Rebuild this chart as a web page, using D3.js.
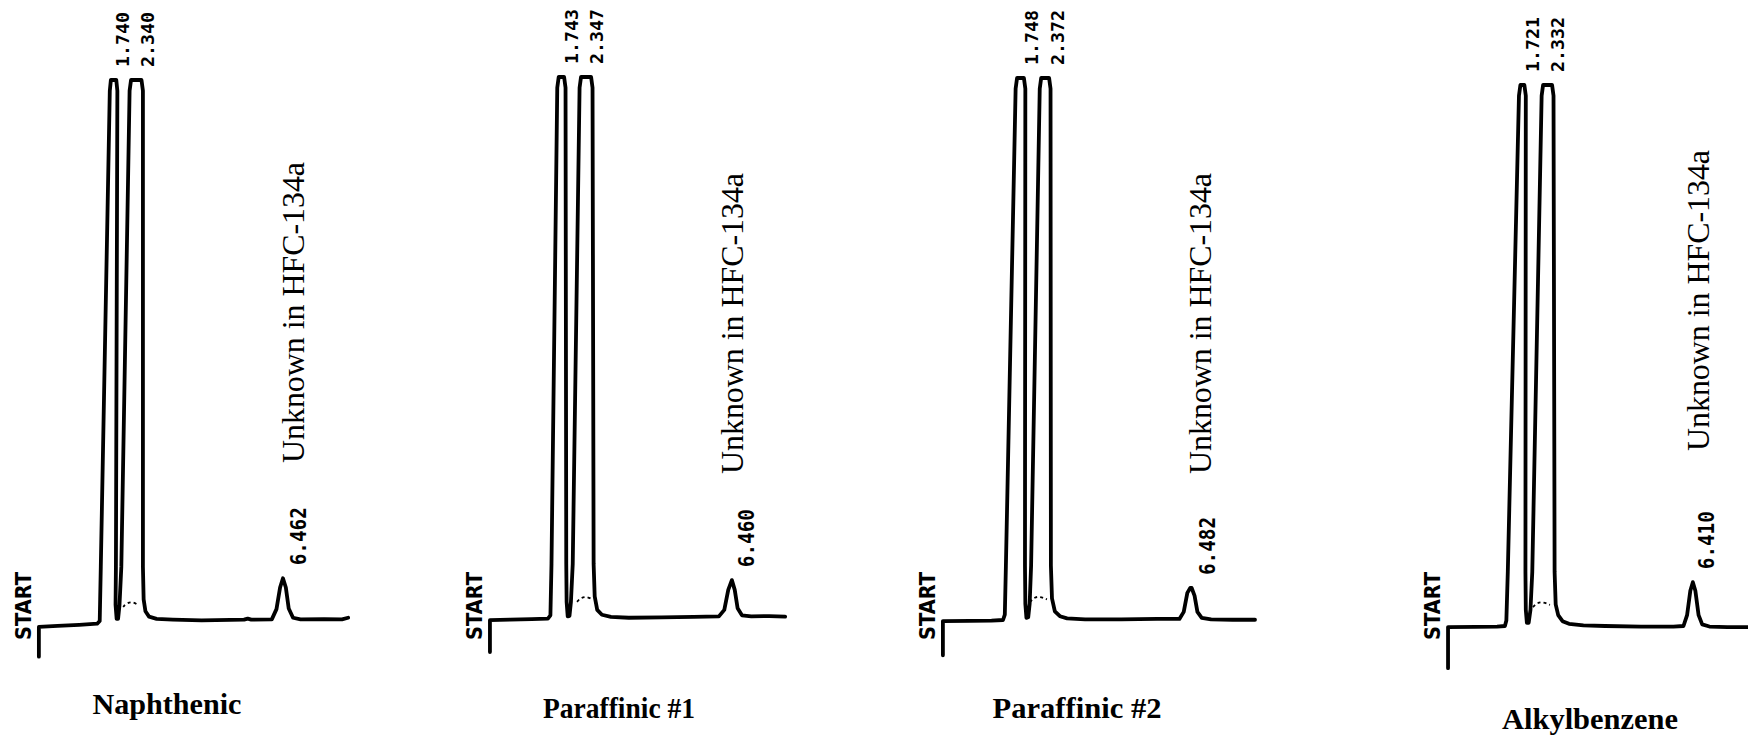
<!DOCTYPE html>
<html>
<head>
<meta charset="utf-8">
<script src="https://cdn.jsdelivr.net/npm/d3@7"></script>
<style>
  html, body { margin: 0; padding: 0; background: #fff; }
  svg { display: block; }
</style>
</head>
<body>
<svg id="chart" width="1748" height="740"></svg>
<script>
// ---------------- DATA ----------------
const categories = ["Naphthenic", "Paraffinic #1", "Paraffinic #2", "Alkylbenzene"];
const peak1RT = [1.740, 1.743, 1.748, 1.721];
const peak2RT = [2.340, 2.347, 2.372, 2.332];
const peak1Labels = ["1.740", "1.743", "1.748", "1.721"];
const peak2Labels = ["2.340", "2.347", "2.372", "2.332"];
const unknownRT = [6.462, 6.460, 6.482, 6.410];
const unknownRTLabels = ["6.462", "6.460", "6.482", "6.410"];
const unknownName = "Unknown in HFC-134a";
const startLabel = "START";

// detector traces: [time (min), signal (% of full scale, off-scale peaks clipped at 100)]
const traceNaphthenic = [
  [-0.32,-6.6],[-0.32,-1.1],[0.2,-0.9],[0.8,-0.7],[1.30,-0.5],[1.37,0],[1.40,10],[1.65,98],[1.68,100],
  [1.83,100],[1.86,98],[1.82,10],[1.81,3],[1.84,0.4],[1.88,0.4],[1.92,3],[1.97,10],[2.20,98],[2.24,100],
  [2.53,100],[2.57,98],[2.57,10],[2.59,4],[2.64,1.8],[2.74,0.8],[2.95,0.4],[3.4,0.25],[4.2,0.1],[5.0,0.2],
  [5.38,0.25],[5.48,0.45],[5.58,0.25],[6.15,0.3],[6.28,2.2],[6.38,6.2],[6.46,7.9],[6.54,6.2],[6.62,2.3],
  [6.74,0.6],[6.95,0.3],[7.6,0.35],[8.1,0.3],[8.27,0.6]
];
const traceParaffinic1 = [
  [-0.26,-6.3],[-0.26,-0.4],[0.3,-0.3],[0.9,-0.2],[1.35,-0.1],[1.42,0.5],[1.45,10],[1.61,98],[1.65,100],
  [1.80,100],[1.84,98],[1.86,10],[1.87,3],[1.90,0.3],[1.95,0.4],[1.99,3],[2.04,10],[2.23,98],[2.27,100],
  [2.55,100],[2.59,98],[2.62,10],[2.65,4],[2.72,1.5],[2.85,0.6],[3.1,0.2],[3.6,0.05],[4.5,0.1],[5.4,0.2],
  [6.1,0.3],[6.25,1.5],[6.36,5.2],[6.46,7.0],[6.54,5.2],[6.62,1.8],[6.74,0.5],[7.0,0.3],[7.5,0.35],[7.94,0.25]
];
const traceParaffinic2 = [
  [-0.45,-6.5],[-0.45,-0.2],[0.3,-0.15],[0.9,-0.1],[1.22,0],[1.27,1],[1.30,10],[1.57,98],[1.61,100],
  [1.80,100],[1.84,98],[1.83,10],[1.84,3],[1.87,0.4],[1.92,0.5],[1.96,3],[2.00,10],[2.24,98],[2.28,100],
  [2.50,100],[2.54,98],[2.55,10],[2.58,4],[2.66,1.6],[2.80,0.7],[3.0,0.3],[3.5,0.1],[4.5,0.1],[5.5,0.2],
  [6.12,0.2],[6.24,1.5],[6.34,5.0],[6.42,5.9],[6.46,5.9],[6.54,4.5],[6.62,1.5],[6.74,0.4],[7.0,0.1],
  [7.6,0.05],[8.22,0.05]
];
const traceAlkylbenzene = [
  [-0.36,-7.8],[-0.36,-0.2],[0.4,-0.15],[1.0,-0.1],[1.22,0],[1.26,1],[1.30,10],[1.61,98],[1.65,100],
  [1.76,100],[1.80,98],[1.79,10],[1.80,3],[1.83,0.6],[1.88,0.6],[1.93,3],[1.98,10],[2.24,98],[2.28,100],
  [2.53,100],[2.57,98],[2.60,10],[2.63,4],[2.70,2],[2.82,0.9],[3.0,0.4],[3.4,0.1],[4.0,0.0],[5.0,-0.1],
  [5.9,-0.1],[6.18,0],[6.28,2],[6.37,6.5],[6.44,8.1],[6.51,6.5],[6.60,2],[6.70,0.3],[6.9,-0.1],[7.4,-0.2],[7.97,-0.2]
];
const traces = [traceNaphthenic, traceParaffinic1, traceParaffinic2, traceAlkylbenzene];

// integrator baseline marks between the two solvent peaks
const markNaphthenic   = [[2.02,2.6],[2.12,3.3],[2.27,3.6],[2.43,3.0]];
const markParaffinic1  = [[2.16,3.0],[2.26,3.7],[2.42,4.0],[2.60,3.4]];
const markParaffinic2  = [[1.97,3.3],[2.07,4.1],[2.23,4.4],[2.44,3.8]];
const markAlkylbenzene = [[2.00,3.5],[2.10,4.2],[2.26,4.5],[2.47,3.9]];
const marks = [markNaphthenic, markParaffinic1, markParaffinic2, markAlkylbenzene];

// ---------------- LAYOUT ----------------
const panelX0 = [50.4, 499.3, 959.1, 1461];   // pixel position of t = 0
const pxPerMin = 36;
const baseY = [621, 618, 620, 626];
const topY  = [80, 77, 78, 85];
const titleX = [167, 619, 1077, 1590];
const titleY = [714, 718, 718, 729];
const titleLen = [149, 152, 169, 176];
const unknownX = [292, 731, 1199, 1697];
const unknownY = [463, 474, 474, 451];

const svg = d3.select("#chart");
svg.append("rect").attr("width", 1748).attr("height", 740).attr("fill", "#fff");

categories.forEach((name, i) => {
  const x = d3.scaleLinear().domain([0, 10]).range([panelX0[i], panelX0[i] + 10 * pxPerMin]);
  const y = d3.scaleLinear().domain([0, 100]).range([baseY[i], topY[i]]);
  const g = svg.append("g");

  const line = d3.line().x(d => x(d[0])).y(d => y(d[1])).curve(d3.curveLinear);

  g.append("path").datum(traces[i]).attr("d", line)
    .attr("fill", "none").attr("stroke", "#000").attr("stroke-width", 3.8)
    .attr("stroke-linejoin", "round").attr("stroke-linecap", "round");

  g.append("path").datum(marks[i]).attr("d", line.curve(d3.curveBasis))
    .attr("fill", "none").attr("stroke", "#000").attr("stroke-width", 1.8)
    .attr("stroke-dasharray", "3,3");

  const rot = (el, px, py) => el.attr("transform", `translate(${px},${py}) rotate(-90)`);

  // START label
  const tStart = traces[i][0][0];
  rot(g.append("text"), x(tStart) - 16, 640)
    .attr("dy", "0.36em").attr("text-anchor", "start")
    .attr("font-family", "DejaVu Sans").attr("font-weight", "bold").attr("font-size", 22)
    .attr("textLength", 68).attr("lengthAdjust", "spacingAndGlyphs")
    .text(startLabel);

  // retention time labels on solvent peaks
  [[peak1RT[i], peak1Labels[i], 10], [peak2RT[i], peak2Labels[i], 13]].forEach(([rt, lab, off]) => {
    rot(g.append("text"), x(rt) + off, y(100) - 13)
      .attr("dy", "0.36em").attr("text-anchor", "start")
      .attr("font-family", "DejaVu Sans Mono").attr("font-weight", "bold").attr("font-size", 17)
      .attr("textLength", 55).attr("lengthAdjust", "spacingAndGlyphs")
      .text(lab);
  });

  // unknown peak retention label
  const tr = traces[i];
  const peakTop = d3.max(tr.filter(d => d[0] > 5.9), d => d[1]);
  rot(g.append("text"), x(unknownRT[i]) + 15, y(peakTop) - 13)
    .attr("dy", "0.36em").attr("text-anchor", "start")
    .attr("font-family", "DejaVu Sans Mono").attr("font-weight", "bold").attr("font-size", 21)
    .attr("textLength", 58).attr("lengthAdjust", "spacingAndGlyphs")
    .text(unknownRTLabels[i]);

  // Unknown in HFC-134a
  rot(g.append("text"), unknownX[i], unknownY[i])
    .attr("dy", "0.36em").attr("text-anchor", "start")
    .attr("font-family", "Liberation Serif").attr("font-size", 32)
    .attr("textLength", 301).attr("lengthAdjust", "spacingAndGlyphs")
    .text(unknownName);

  // panel title
  g.append("text").attr("x", titleX[i]).attr("y", titleY[i])
    .attr("text-anchor", "middle")
    .attr("font-family", "Liberation Serif").attr("font-weight", "bold").attr("font-size", 29)
    .attr("textLength", titleLen[i]).attr("lengthAdjust", "spacingAndGlyphs")
    .text(name);
});
</script>
</body>
</html>
